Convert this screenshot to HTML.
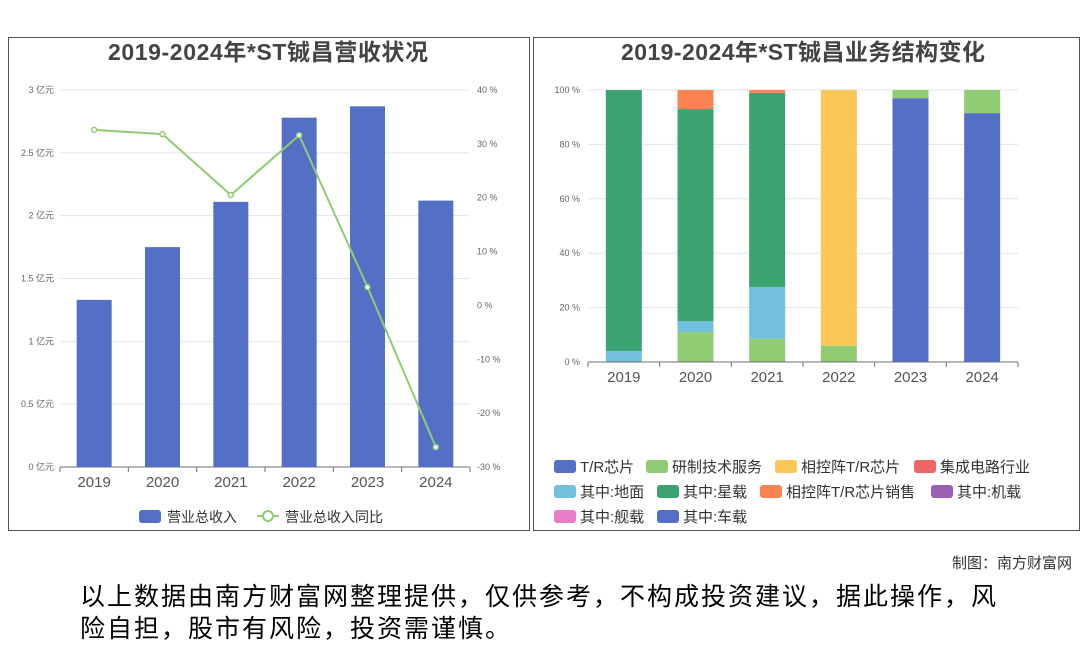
<!DOCTYPE html>
<html><head><meta charset="utf-8"><style>
body{margin:0;width:1080px;height:646px;background:#fff;font-family:"Liberation Sans","Noto Sans CJK SC",sans-serif;overflow:hidden;position:relative}
.panel{position:absolute;border:1px solid #555;box-sizing:border-box}
svg text{font-family:"Liberation Sans","Noto Sans CJK SC",sans-serif}
</style></head><body>
<div class="panel" style="left:8px;top:37px;width:522px;height:494px"></div>
<div class="panel" style="left:533px;top:37px;width:547px;height:494px"></div>
<svg id="c" width="1080" height="646" style="position:absolute;left:0;top:0">
<text x="268" y="60" text-anchor="middle" font-size="23" font-weight="bold" fill="#444" textLength="320">2019-2024年*ST铖昌营收状况</text>
<text x="803" y="60" text-anchor="middle" font-size="23" font-weight="bold" fill="#444" textLength="364">2019-2024年*ST铖昌业务结构变化</text>
<g id="L"></g><g id="R"></g>
</svg>
<div style="position:absolute;right:8px;top:552px;font-size:15px;color:#333">制图：南方财富网</div>
<div style="position:absolute;left:80px;width:1000px;top:581px;font-size:25px;letter-spacing:2px;line-height:32px;color:#000;text-align:left">以上数据由南方财富网整理提供，仅供参考，不构成投资建议，据此操作，风<br>险自担，股市有风险，投资需谨慎。</div>
<script>
const years=['2019','2020','2021','2022','2023','2024'];
const revenue=[1.33,1.75,2.11,2.78,2.87,2.12];
const growth=[32.6,31.8,20.5,31.6,3.4,-26.3];
const leftTicks=[0,0.5,1,1.5,2,2.5,3];
const rightTicks=[-30,-20,-10,0,10,20,30,40];
const seriesNames=['T/R芯片','研制技术服务','相控阵T/R芯片','集成电路行业','其中:地面','其中:星载','相控阵T/R芯片销售','其中:机载','其中:舰载','其中:车载'];
const seriesColors=['#5470c6','#91cc75','#fac858','#ee6666','#73c0de','#3ba272','#fc8452','#9a60b4','#ea7ccc','#5470c6'];
const sTR=[0,0,0,0,97,91.5];
const sYZ=[0,11,8.5,6,3,8.5];
const sXK=[0,0,0,94,0,0];
const sJC=[0,0,0,0,0,0];
const sDM=[4,4,19,0,0,0];
const sXZ=[96,78,71.5,0,0,0];
const sXS=[0,7,1,0,0,0];
const sJZ=[0,0,0,0,0,0];
const sJian=[0,0,0,0,0,0];
const sCZ=[0,0,0,0,0,0];
const stackOrder=[sTR,sYZ,sXK,sJC,sDM,sXZ,sXS,sJZ,sJian,sCZ];
const pctTicks=[0,20,40,60,80,100];
const NS='http://www.w3.org/2000/svg';
function mk(p,t,a,txt){const e=document.createElementNS(NS,t);for(const k in a)e.setAttribute(k,a[k]);if(txt!==undefined)e.textContent=txt;p.appendChild(e);return e;}
const L=document.getElementById('L');
const lx0=60,lx1=470,ly0=467,ly1=90,bw=(lx1-lx0)/6;
const yL=v=>ly0-(v/3)*(ly0-ly1);
const yR=v=>ly0-((v+30)/70)*(ly0-ly1);
const xc=i=>lx0+bw*(i+0.5);
leftTicks.forEach(t=>{let g=mk(L,'line',{x1:lx0,x2:lx1,y1:yL(t),y2:yL(t),stroke:'#e0e6f1'});
let tx=mk(L,'text',{x:54,y:yL(t)+3,'text-anchor':'end','font-size':9,fill:'#666'},t+' 亿元');});
rightTicks.forEach(t=>{let tx=mk(L,'text',{x:477,y:yR(t)+3,'font-size':9,fill:'#666'},t+' %');});
mk(L,'line',{x1:lx0,x2:lx1,y1:ly0,y2:ly0,stroke:'#6e7079'});
revenue.forEach((v,i)=>{let r=mk(L,'rect',{x:xc(i)-17.5,y:yL(v),width:35,height:ly0-yL(v),fill:'#5470c6'});
mk(L,'line',{x1:lx0+bw*i,x2:lx0+bw*i,y1:ly0,y2:ly0+5,stroke:'#6e7079'});
let t=mk(L,'text',{x:xc(i),y:487,'text-anchor':'middle','font-size':15,fill:'#555'},years[i]);});
mk(L,'line',{x1:lx1,x2:lx1,y1:ly0,y2:ly0+5,stroke:'#6e7079'});
let pl=mk(L,'polyline',{points:growth.map((v,i)=>xc(i)+','+yR(v)).join(' '),fill:'none',stroke:'#91cc75','stroke-width':2});

growth.forEach((v,i)=>{let c=mk(L,'circle',{cx:xc(i),cy:yR(v),r:2.5,fill:'#fff',stroke:'#91cc75','stroke-width':1.5});});
let lg1=mk(L,'rect',{x:139,y:510,width:22,height:13,rx:3,fill:'#5470c6'});
mk(L,'text',{x:167,y:522,'font-size':14,fill:'#333'},'营业总收入');
let lg2=mk(L,'line',{x1:257,x2:279,y1:516,y2:516,stroke:'#91cc75','stroke-width':2});
mk(L,'circle',{cx:268,cy:516,r:5,fill:'#fff',stroke:'#91cc75','stroke-width':2});
mk(L,'text',{x:285,y:522,'font-size':14,fill:'#333'},'营业总收入同比');
const R=document.getElementById('R');
const rx0=588,rx1=1018,ry0=362,ry1=90,rbw=(rx1-rx0)/6;
const yP=v=>ry0-(v/100)*(ry0-ry1);
const rxc=i=>rx0+rbw*(i+0.5);
pctTicks.forEach(t=>{let g=mk(R,'line',{x1:rx0,x2:rx1,y1:yP(t),y2:yP(t),stroke:'#e0e6f1'});
let tx=mk(R,'text',{x:580,y:yP(t)+3,'text-anchor':'end','font-size':9,fill:'#666'},t+' %');});
years.forEach((y,i)=>{let acc=0;stackOrder.forEach((s,k)=>{const v=s[i];if(v>0){let r=mk(R,'rect',{x:rxc(i)-18,y:yP(acc+v),width:36,height:yP(acc)-yP(acc+v),fill:seriesColors[k]});}acc+=v;});
mk(R,'line',{x1:rx0+rbw*i,x2:rx0+rbw*i,y1:ry0,y2:ry0+5,stroke:'#6e7079'});
let t=mk(R,'text',{x:rxc(i),y:382,'text-anchor':'middle','font-size':15,fill:'#555'},y);});
mk(R,'line',{x1:rx0,x2:rx1,y1:ry0,y2:ry0,stroke:'#6e7079'});
mk(R,'line',{x1:rx1,x2:rx1,y1:ry0,y2:ry0+5,stroke:'#6e7079'});
const legX=[[554,646,775,914],[554,657,760,931],[554,657]];
let idx=0;legX.forEach((row,ri)=>{row.forEach(x=>{const k=idx++;const y=466+ri*25;
let r=mk(R,'rect',{x:x,y:y-6,width:22,height:13,rx:3,fill:seriesColors[k]});
mk(R,'text',{x:x+26,y:y+6,'font-size':15,fill:'#333'},seriesNames[k]);});});
</script>
</body></html>
